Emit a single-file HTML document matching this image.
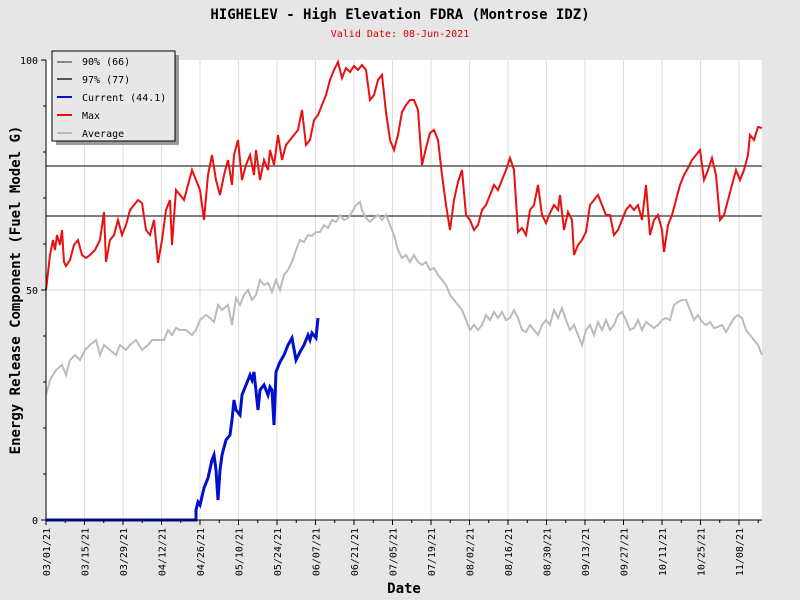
<!DOCTYPE html>
<html><head><style>body{margin:0;background:#e6e6e6}svg{display:block}</style></head><body>
<svg width="800" height="600" xmlns="http://www.w3.org/2000/svg" font-family="DejaVu Sans Mono, Liberation Mono, monospace">
<rect width="800" height="600" fill="#e6e6e6"/>
<text x="400" y="19" text-anchor="middle" font-size="14" font-weight="bold">HIGHELEV - High Elevation FDRA (Montrose IDZ)</text>
<text x="400" y="37" text-anchor="middle" font-size="10" fill="#d00">Valid Date: 08-Jun-2021</text>
<rect x="46" y="60" width="716" height="460" fill="#fff"/>
<g stroke="#ddd" stroke-width="1">
<line x1="84.5" y1="60" x2="84.5" y2="520"/><line x1="123" y1="60" x2="123" y2="520"/><line x1="161.5" y1="60" x2="161.5" y2="520"/><line x1="200" y1="60" x2="200" y2="520"/><line x1="238.5" y1="60" x2="238.5" y2="520"/><line x1="277" y1="60" x2="277" y2="520"/><line x1="315.5" y1="60" x2="315.5" y2="520"/><line x1="354" y1="60" x2="354" y2="520"/><line x1="392.5" y1="60" x2="392.5" y2="520"/><line x1="431" y1="60" x2="431" y2="520"/><line x1="469.5" y1="60" x2="469.5" y2="520"/><line x1="508" y1="60" x2="508" y2="520"/><line x1="546.5" y1="60" x2="546.5" y2="520"/><line x1="585" y1="60" x2="585" y2="520"/><line x1="623.5" y1="60" x2="623.5" y2="520"/><line x1="662" y1="60" x2="662" y2="520"/><line x1="700.5" y1="60" x2="700.5" y2="520"/><line x1="739" y1="60" x2="739" y2="520"/>
<line x1="46" y1="290" x2="762" y2="290"/></g>
<line x1="46" y1="216" x2="762" y2="216" stroke="#555" stroke-width="1.5"/>
<line x1="46" y1="166" x2="762" y2="166" stroke="#555" stroke-width="1.5"/>
<polyline fill="none" stroke="#bbb" stroke-width="2" points="46,395 50,380 56,370 62,365 66,375 70,360 75,355 80,360 85,350 90,345 96,340 100,355 104,345 110,350 116,355 120,345 126,350 130,345 136,340 142,350 148,345 152,340 158,340 164,340 168,330 172,335 176,328 180,330 186,330 192,335 196,330 200,320 206,315 210,318 214,322 218,305 222,310 228,305 232,325 236,298 240,305 244,295 248,290 252,300 256,295 260,280 264,285 268,283 272,292 276,280 280,290 284,275 288,270 292,262 296,250 300,240 304,242 308,235 312,236 316,232 320,232 324,225 328,228 332,220 336,222 340,215 344,220 348,218 352,212 356,205 360,202 362,210 366,218 370,222 374,218 378,215 382,220 386,215 390,225 394,235 398,250 402,258 406,255 410,262 414,255 418,262 422,265 426,262 430,270 434,268 438,275 442,280 446,285 450,295 454,300 458,305 462,310 466,320 470,330 474,325 478,330 482,325 486,315 490,320 494,312 498,318 502,312 506,320 510,318 514,310 518,318 522,330 526,332 530,325 534,330 538,335 542,325 546,320 550,325 554,310 558,318 562,308 566,320 570,330 574,325 578,335 582,345 586,330 590,325 594,335 598,322 602,330 606,320 610,330 614,325 618,315 622,312 626,320 630,330 634,328 638,320 642,330 646,322 650,325 654,328 658,325 662,320 666,318 670,320 674,305 678,302 682,300 686,300 690,310 694,320 698,315 702,322 706,325 710,322 714,328 718,327 722,325 726,332 730,325 734,318 738,315 742,318 746,330 750,335 754,340 758,345 762,355"/>
<polyline fill="none" stroke="#e81010" stroke-width="2" points="46,290 50,255 53,240 55,250 57,235 60,245 62,230 64,262 66,266 70,260 74,245 78,240 82,255 86,258 90,255 95,250 100,240 104,212 106,262 110,240 114,235 118,220 122,235 126,225 130,210 134,205 138,200 142,203 146,230 150,235 154,220 158,263 162,240 166,210 170,200 172,245 176,190 180,195 184,200 188,185 192,170 196,180 200,190 204,220 208,175 212,155 216,180 220,195 224,175 228,160 232,185 234,155 238,140 242,180 246,165 250,155 254,175 256,150 260,180 264,160 268,170 270,150 274,165 278,135 282,160 286,145 290,140 294,135 298,130 302,110 306,145 310,140 314,120 318,115 322,105 326,95 330,80 334,70 338,62 342,78 346,68 350,72 354,66 358,70 362,65 366,70 370,100 374,95 378,80 382,75 386,112 390,140 394,150 398,135 402,112 406,105 410,100 414,100 418,110 422,165 426,148 430,133 434,130 438,140 442,175 446,205 450,230 454,200 458,182 462,170 466,215 470,220 474,230 478,225 482,210 486,205 490,195 494,185 498,190 502,180 506,170 510,158 514,170 518,232 522,228 526,235 530,210 534,205 538,185 542,215 546,223 550,213 554,205 558,210 560,195 564,230 568,212 572,220 574,255 578,245 582,240 586,232 590,205 594,200 598,195 602,205 606,215 610,215 614,235 618,230 622,220 626,210 630,205 634,210 638,205 642,220 646,185 650,235 654,220 658,215 662,230 664,252 668,225 672,215 676,200 680,185 684,175 688,168 692,160 696,155 700,150 704,180 708,170 712,158 716,175 720,220 724,215 728,200 732,185 736,170 740,180 744,170 748,155 750,135 754,140 758,127 762,128"/>
<polyline fill="none" stroke="#0010cc" stroke-width="3" points="46,520 196,520 196,510 198,502 200,505 204,488 208,478 212,460 214,455 216,470 218,500 220,470 222,455 226,440 230,435 232,420 234,400 236,410 240,415 242,395 246,385 250,375 252,380 254,372 258,410 260,390 264,385 268,395 270,387 272,390 274,425 276,372 280,362 284,355 288,345 292,338 296,360 300,352 304,345 308,335 310,340 312,333 316,338 318,318"/>
<g stroke="#000" stroke-width="1">
<line x1="46" y1="60" x2="46" y2="520"/><line x1="46" y1="520" x2="762" y2="520"/>
<path d="M46 520v5M84.5 520v5M123 520v5M161.5 520v5M200 520v5M238.5 520v5M277 520v5M315.5 520v5M354 520v5M392.5 520v5M431 520v5M469.5 520v5M508 520v5M546.5 520v5M585 520v5M623.5 520v5M662 520v5M700.5 520v5M739 520v5"/>
<path d="M65.25 520v3M103.75 520v3M142.25 520v3M180.75 520v3M219.25 520v3M257.75 520v3M296.25 520v3M334.75 520v3M373.25 520v3M411.75 520v3M450.25 520v3M488.75 520v3M527.25 520v3M565.75 520v3M604.25 520v3M642.75 520v3M681.25 520v3M719.75 520v3M758.25 520v3"/>
<path d="M41 60h5M43 106h3M43 152h3M43 198h3M43 244h3M41 290h5M43 336h3M43 382h3M43 428h3M43 474h3M41 520h5"/>
</g>
<g font-size="10" text-anchor="end"><text x="38" y="64">100</text><text x="38" y="294">50</text><text x="38" y="524">0</text></g>
<g font-size="10" text-anchor="end">
<text transform="translate(50,528) rotate(-90)">03/01/21</text><text transform="translate(88.5,528) rotate(-90)">03/15/21</text><text transform="translate(127,528) rotate(-90)">03/29/21</text><text transform="translate(165.5,528) rotate(-90)">04/12/21</text><text transform="translate(204,528) rotate(-90)">04/26/21</text><text transform="translate(242.5,528) rotate(-90)">05/10/21</text><text transform="translate(281,528) rotate(-90)">05/24/21</text><text transform="translate(319.5,528) rotate(-90)">06/07/21</text><text transform="translate(358,528) rotate(-90)">06/21/21</text><text transform="translate(396.5,528) rotate(-90)">07/05/21</text><text transform="translate(435,528) rotate(-90)">07/19/21</text><text transform="translate(473.5,528) rotate(-90)">08/02/21</text><text transform="translate(512,528) rotate(-90)">08/16/21</text><text transform="translate(550.5,528) rotate(-90)">08/30/21</text><text transform="translate(589,528) rotate(-90)">09/13/21</text><text transform="translate(627.5,528) rotate(-90)">09/27/21</text><text transform="translate(666,528) rotate(-90)">10/11/21</text><text transform="translate(704.5,528) rotate(-90)">10/25/21</text><text transform="translate(743,528) rotate(-90)">11/08/21</text>
</g>
<text x="404" y="593" text-anchor="middle" font-size="14" font-weight="bold">Date</text>
<text transform="translate(20,290) rotate(-90)" text-anchor="middle" font-size="14" font-weight="bold">Energy Release Component (Fuel Model G)</text>
<rect x="56" y="55" width="123" height="90" fill="#999"/>
<rect x="52" y="51" width="123" height="90" fill="#e8e8e8" stroke="#000"/>
<g stroke-width="2"><line x1="57" y1="62" x2="72" y2="62" stroke="#888"/><line x1="57" y1="79" x2="72" y2="79" stroke="#555"/><line x1="57" y1="97" x2="72" y2="97" stroke="#0010cc"/><line x1="57" y1="115" x2="72" y2="115" stroke="#e81010"/><line x1="57" y1="133" x2="72" y2="133" stroke="#bbb"/></g>
<g font-size="10"><text x="82" y="65">90% (66)</text><text x="82" y="83">97% (77)</text><text x="82" y="101">Current (44.1)</text><text x="82" y="119">Max</text><text x="82" y="137">Average</text></g>
</svg>
</body></html>
